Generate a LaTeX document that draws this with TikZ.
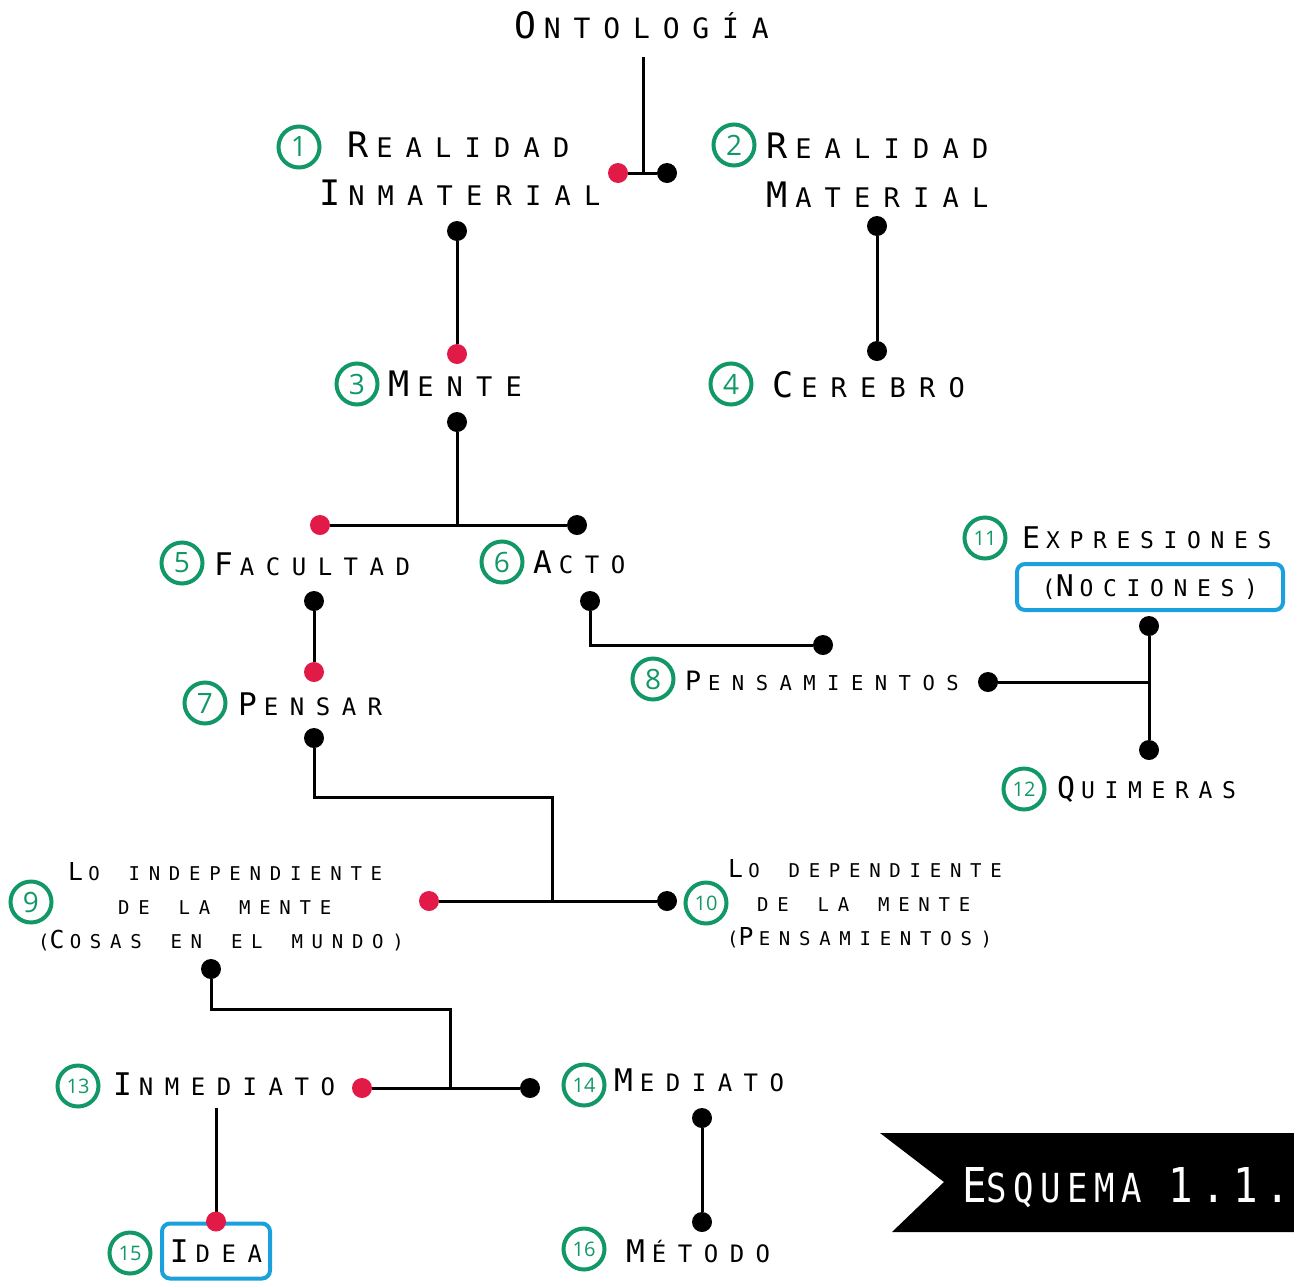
\documentclass[tikz,border=0pt]{standalone}
\usepackage{fontspec}
\newfontfamily\lblfont{DejaVu Sans Mono}
\newfontfamily\widefont[WordSpace=1.43]{DejaVu Sans Mono}
\newfontfamily\bannerfont[LetterSpace=19]{DejaVu Sans Mono}
\newfontfamily\numfont{Open Sans}
\definecolor{numgreen}{RGB}{18,152,102}
\definecolor{dotred}{RGB}{226,26,72}
\definecolor{boxblue}{RGB}{27,160,222}
% tracking for the label fonts, remembered for the enlarged initials
\def\lsval{45}
\newcommand\setls[1]{\addfontfeature{LetterSpace=#1}\def\lsval{#1}}
% enlarged initial for the small-caps look
\newcommand\Cap[1]{\scalebox{1.3}{#1}\kern\fpeval{0.006*\lsval}em}
\newcommand\Capb[1]{\scalebox{1.2}{#1}}

\tikzset{
  lbl/.style={inner sep=0pt, anchor=base west},
  lblbig/.style={lbl, font=\lblfont\fontsize{27}{30}\selectfont\setls{49}},
  lblmed/.style={lbl, font=\lblfont\fontsize{24}{27}\selectfont\setls{48}},
  lblmid/.style={lbl, font=\lblfont\fontsize{23}{26}\selectfont\setls{42}},
  lblsmall/.style={lbl, font=\lblfont\fontsize{20.5}{24}\selectfont\setls{56}},
  lbltiny/.style={lbl, font=\widefont\fontsize{19}{22}\selectfont\setls{46}},
  num/.style={circle, draw=numgreen, line width=4pt, text=numgreen,
    minimum size=41pt, inner sep=0pt, font=\numfont\fontsize{28}{28}\selectfont},
  numtwo/.style={num, font=\numfont\fontsize{20}{20}\selectfont},
  dot/.style={circle, fill=black, minimum size=20pt, inner sep=0pt},
  rdot/.style={dot, fill=dotred},
  link/.style={line width=3pt},
  bluebox/.style={draw=boxblue, line width=4pt, rounded corners=8pt, anchor=center},
}

\begin{document}
\begin{tikzpicture}[x=1pt,y=-1pt]
\useasboundingbox (0,0) rectangle (1294,1283);

% ---- labels ----
\node[lbl, font=\lblfont\fontsize{28}{32}\selectfont\setls{46}] (onto) at (514,38) {\Cap{O}NTOLOGÍA};

\node[num] (n1) at (299,147) {1};
\node[lblbig] (l1a) at (347,157) {\Cap{R}EALIDAD};
\node[lblbig] (l1b) at (319,205) {\Cap{I}NMATERIAL};

\node[num] (n2) at (734,145) {2};
\node[lblbig] (l2a) at (766,158) {\Cap{R}EALIDAD};
\node[lblbig] (l2b) at (766,207) {\Cap{M}ATERIAL};

\node[num] (n3) at (357,384) {3};
\node[lblbig] (l3) at (388,396) {\Cap{M}ENTE};

\node[num] (n4) at (731,384) {4};
\node[lblbig] (l4) at (772,397) {\Cap{C}EREBRO};

\node[num] (n5) at (182,563) {5};
\node[lblmed] (l5) at (214,575) {\Cap{F}ACULTAD};

\node[num] (n6) at (502,562) {6};
\node[lblmed] (l6) at (533,573) {\Cap{A}CTO};

\node[num] (n7) at (205,703) {7};
\node[lblmed] (l7) at (238,715) {\Cap{P}ENSAR};

\node[num] (n8) at (653,679) {8};
\node[lblsmall] (l8) at (685,690) {\Cap{P}ENSAMIENTOS};

\node[num] (n9) at (31,902) {9};
\node[lbltiny] (l9a) at (68,880) {\Cap{L}O INDEPENDIENTE};
\node[lbltiny] (l9b) at (118,914) {DE LA MENTE};
\node[lbltiny] (l9c) at (38,948) {(\Cap{C}OSAS EN EL MUNDO)};

\node[numtwo] (n10) at (706,903) {10};
\node[lbltiny] (l10a) at (728,877) {\Cap{L}O DEPENDIENTE};
\node[lbltiny] (l10b) at (757,911) {DE LA MENTE};
\node[lbltiny] (l10c) at (727,945) {(\Cap{P}ENSAMIENTOS)};

\node[numtwo] (n11) at (985,538) {11};
\node[lblmid] (l11) at (1022,548) {\Cap{E}XPRESIONES};
\node[lblmid, bluebox, minimum width=266pt, minimum height=46pt] (l11b) at (1150,587) {(\Cap{N}OCIONES)};

\node[numtwo] (n12) at (1024,789) {12};
\node[lblmid] (l12) at (1057,798) {\Cap{Q}UIMERAS};

\node[numtwo] (n13) at (78,1086) {13};
\node[lblmed] (l13) at (113,1095) {\Cap{I}NMEDIATO};

\node[numtwo] (n14) at (584,1085) {14};
\node[lblmed] (l14) at (614,1091) {\Cap{M}EDIATO};

\node[numtwo] (n15) at (130,1253) {15};
\node[lblmed, bluebox, minimum width=108pt, minimum height=55pt] (l15) at (216,1251) {\Cap{I}DEA};

\node[numtwo] (n16) at (584,1249) {16};
\node[lblmed] (l16) at (626,1262) {\Cap{M}ÉTODO};

% ---- junction points and bends ----
\coordinate (ontoStem) at (643,57);
\coordinate (j0) at (643,173);
\coordinate (j3) at (457,525);
\coordinate (j8) at (1149,682);
\coordinate (j7) at (552,797);
\coordinate (j9) at (552,901);
\coordinate (j9b) at (450,1009);
\coordinate (j13) at (450,1088);
\coordinate (c13) at (216,1108);

% ---- end dots ----
\node[rdot] (d0a) at (618,173) {};
\node[dot]  (d0b) at (667,173) {};
\node[dot]  (d1)  at (457,231) {};
\node[rdot] (d3a) at (457,354) {};
\node[dot]  (d2)  at (877,226) {};
\node[dot]  (d4)  at (877,351) {};
\node[dot]  (d3b) at (457,422) {};
\node[rdot] (d5a) at (320,525) {};
\node[dot]  (d6a) at (577,525) {};
\node[dot]  (d5b) at (314,601) {};
\node[rdot] (d7a) at (314,672) {};
\node[dot]  (d6b) at (590,601) {};
\node[dot]  (d8a) at (823,645) {};
\node[dot]  (d8b) at (988,682) {};
\node[dot]  (d11) at (1149,626) {};
\node[dot]  (d12) at (1149,750) {};
\node[dot]  (d7b) at (314,738) {};
\node[rdot] (d9a) at (429,901) {};
\node[dot]  (d10a) at (667,901) {};
\node[dot]  (d9b) at (211,969) {};
\node[rdot] (d13a) at (362,1088) {};
\node[dot]  (d14a) at (530,1088) {};
\node[dot]  (d14b) at (702,1118) {};
\node[dot]  (d16) at (702,1222) {};

% ---- connectors ----
\begin{scope}[link]
\draw (ontoStem) -- (j0);
\draw (d0a) -- (d0b);
\draw (d1) -- (d3a);
\draw (d2) -- (d4);
\draw (d3b) -- (j3);
\draw (d5a) -- (d6a);
\draw (d5b) -- (d7a);
\draw (d6b) |- (d8a);
\draw (d8b) -- (j8);
\draw (d11) -- (d12);
\draw (d7b) |- (j7) -- (j9);
\draw (d9a) -- (d10a);
\draw (d9b) |- (j9b) -- (j13);
\draw (d13a) -- (d14a);
\draw (c13) -- (l15.north);
\draw (d14b) -- (d16);
\end{scope}
\node[rdot] (d15) at (l15.north) {};

% ---- caption banner ----
\fill[black] (880,1133) -- (1294,1133) -- (1294,1232) -- (892,1232) -- (944,1182) -- cycle;
\node[inner sep=0pt, anchor=base west, text=white, font=\bannerfont\fontsize{40}{44}\selectfont] (cap) at (962,1202)
  {\scalebox{0.85}[1]{\Capb{E}SQUEMA \Capb{1.1.}}};
\end{tikzpicture}
\end{document}
